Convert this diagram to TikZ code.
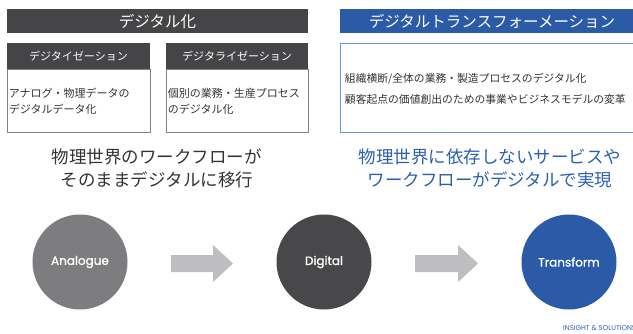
\documentclass[tikz,border=0pt]{standalone}
\usepackage{fontspec}
\setmainfont{Noto Sans CJK JP}
\newfontfamily\latinfont{Poppins}
\newfontfamily\stagefont{Poppins}[FakeBold=1.2]
\usetikzlibrary{positioning}

\definecolor{darkbar}{RGB}{69,69,71}
\definecolor{bluebar}{RGB}{43,91,166}
\definecolor{boxline}{RGB}{130,130,130}
\definecolor{blueline}{RGB}{110,150,210}
\definecolor{analoguegray}{RGB}{125,125,127}
\definecolor{digitalgray}{RGB}{72,72,74}
\definecolor{arrowgray}{RGB}{190,190,192}
\definecolor{bluetext}{RGB}{45,95,175}
\definecolor{bodytext}{RGB}{51,51,51}

\tikzset{
	bartext/.style={text=white, inner sep=0.75pt, font=\fontsize{15.5}{18}\selectfont},
	headtext/.style={text=white, inner sep=0.75pt, font=\fontsize{11}{13}\selectfont},
	boxtext/.style={text=bodytext, inner sep=0.75pt, anchor=west, align=left},
	bigtext/.style={inner sep=0.75pt, align=center, font=\fontsize{17.5}{23}\selectfont},
	stage/.style={circle, minimum size=95pt, inner sep=0pt, text=white, font=\stagefont\fontsize{12}{14}\selectfont}
}

\begin{document}
\begin{tikzpicture}[x=1pt,y=1pt,yscale=-1,xscale=1]
	\useasboundingbox (0,0) rectangle (633,333);
	\clip (0,0) rectangle (633,333);

	% left block: digitalisation
	\fill [darkbar] (7,9) rectangle (308,33);
	\fill [darkbar] (7,43) rectangle (150,69);
	\fill [darkbar] (166,43) rectangle (308,69);
	\draw [boxline, line width=0.8pt] (7,69) rectangle (150,132);
	\draw [boxline, line width=0.8pt] (166,69) rectangle (308,132);

	\node [bartext] (titleleft) at (157.5,21) {デジタル化};
	\node [headtext] (headone) at (78.5,56) {デジタイゼーション};
	\node [headtext] (headtwo) at (237,56) {デジタライゼーション};
	\node [boxtext, font=\fontsize{11}{16}\selectfont] (bodyone) at (8,101) {アナログ・物理データの\\デジタルデータ化};
	\node [boxtext, font=\fontsize{11}{16}\selectfont] (bodytwo) at (167,101) {個別の業務・生産プロセス\\のデジタル化};

	% right block: transformation
	\fill [bluebar] (340,9) rectangle (640,33);
	\draw [blueline, line width=0.8pt] (340,43) rectangle (640,132);
	\node [bartext] (titleright) at (492,21) {デジタルトランスフォーメーション};
	\node [boxtext, font=\fontsize{10.8}{21}\selectfont] (bodythree) at (344,88.5) {組織横断/全体の業務・製造プロセスのデジタル化\\顧客起点の価値創出のための事業やビジネスモデルの変革};

	% captions
	\node [bigtext, text=bodytext] (captionleft) at (157,168.5) {物理世界のワークフローが\\そのままデジタルに移行};
	\node [bigtext, text=bluetext] (captionright) at (490,168.5) {物理世界に依存しないサービスや\\ワークフローがデジタルで実現};

	% stages
	\node [stage, fill=analoguegray] (analogue) at (80,262) {Analogue};
	\node [stage, fill=digitalgray] (digital) at (324,262) {Digital};
	\node [stage, fill=bluebar] (transform) at (569,262) {Transform};

	\fill [arrowgray] (171,255) -- (213,255) -- (213,245) -- (233,263.5) -- (213,282) -- (213,272) -- (171,272) -- cycle;
	\fill [arrowgray] (415,255) -- (458,255) -- (458,245) -- (478,263.5) -- (458,282) -- (458,272) -- (415,272) -- cycle;

	\node [anchor=west, inner sep=0pt, text=bluetext, font=\latinfont\fontsize{7}{8}\selectfont] (brand) at (563,328) {INSIGHT \& SOLUTIONS};
\end{tikzpicture}
\end{document}
